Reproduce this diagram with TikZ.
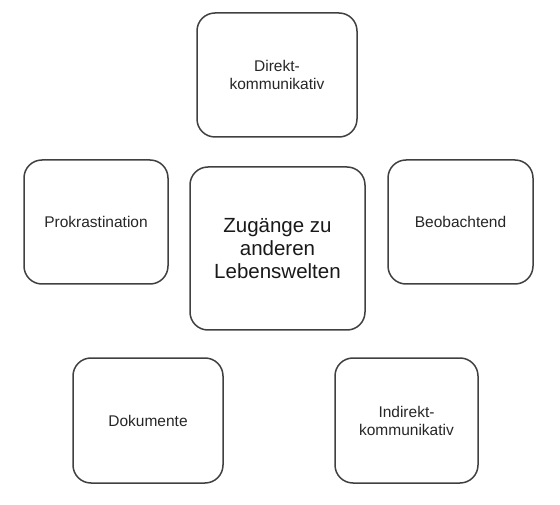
\documentclass[tikz,border=0pt]{standalone}
\usepackage{fontspec}
\setmainfont{Liberation Sans}
\begin{document}
\begin{tikzpicture}[x=1pt,y=-1pt,
  box/.style={draw=black!75, line width=1.5pt, rounded corners=18pt},
  lbl/.style={align=center, text=black!85, font=\fontsize{15.5}{18}\selectfont},
  big/.style={align=center, text=black!90, font=\fontsize{20.5}{23}\selectfont}]
\useasboundingbox (0,0) rectangle (560,505);
\draw[box] (197,13) rectangle (357,137) node[lbl, midway] (top) {Direkt-\\kommunikativ};
\draw[box] (24,160) rectangle (168,284) node[lbl, midway] (left) {Prokrastination};
\draw[box] (190,167) rectangle (365,330) node[big, midway] (center) {Zugänge zu\\anderen\\Lebenswelten};
\draw[box] (388,160) rectangle (533,284) node[lbl, midway] (right) {Beobachtend};
\draw[box] (73,358) rectangle (223,483) node[lbl, midway] (bl) {Dokumente};
\draw[box] (335,358) rectangle (478,483) node[lbl, midway] (br) {Indirekt-\\kommunikativ};
\end{tikzpicture}
\end{document}
